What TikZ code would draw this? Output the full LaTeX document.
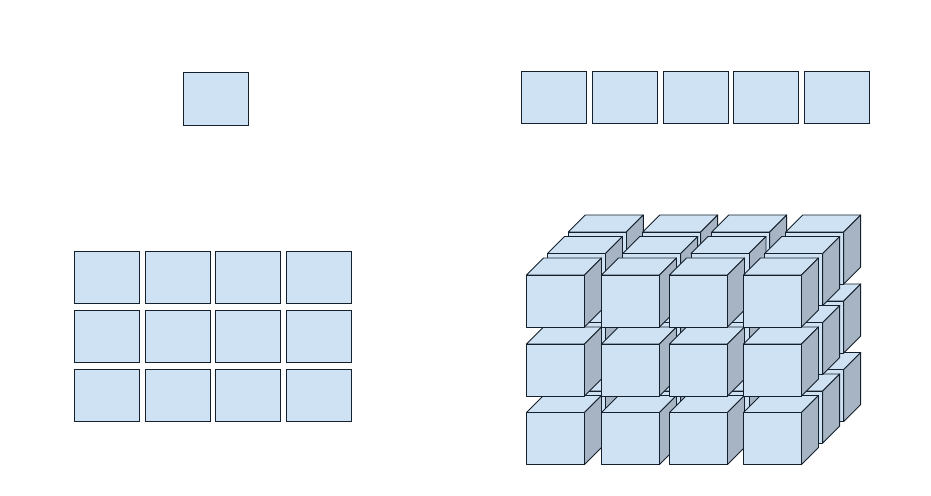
\documentclass[tikz,border=0pt]{standalone}
\usetikzlibrary{positioning}
\definecolor{cellblue}{HTML}{CFE2F3}
\definecolor{sideblue}{HTML}{A6B4C4}
\definecolor{ink}{HTML}{14202B}
\tikzset{
  cell/.style ={draw=ink, line width=0.55pt, fill=cellblue, inner sep=0pt, outer sep=0pt, minimum width=1.308cm, minimum height=1.04cm},
  face/.style ={draw=ink, line width=0.55pt, line join=round, fill=cellblue},
  side/.style ={draw=ink, line width=0.55pt, line join=round, fill=sideblue},
  cube/.pic={
    \draw[face] (0,0) -- (17,-17) -- (75,-17) -- (58,0) -- cycle;
    \draw[side] (58,0) -- (75,-17) -- (75,35) -- (58,52) -- cycle;
    \draw[face] (0,0) rectangle (58,52);
  },
}
\begin{document}
\begin{tikzpicture}[x=0.02cm, y=-0.02cm]
  \useasboundingbox (0,0) rectangle (931,496);
  % scalar
  \node[cell, minimum height=1.06cm] (s) at (216,98.8) {};
  % vector
  \foreach \x/\name in {553.7/1, 625/2, 696/3, 766/4, 836.8/5} {
    \node[cell] (v\name) at (\x,97.3) {};
  }
  % matrix
  \foreach \x/\c in {107/1, 178/2, 248/3, 319/4} {
    \foreach \y/\r in {277.3/1, 336.3/2, 395.3/3} {
      \node[cell] (m\r\c) at (\x,\y) {};
    }
  }
  % tensor, back layer first
  \foreach \cols/\top in {{568.3,642.7,711.7,785.7}/232, {547.5,622.7,691,764.7}/253.5, {526.5,601.5,669.5,743.5}/275} {
    \foreach \dy in {137.5,69,0} {
      \foreach \x in \cols {
        \pic at (\x,{\top+\dy}) {cube};
      }
    }
  }
\end{tikzpicture}
\end{document}
